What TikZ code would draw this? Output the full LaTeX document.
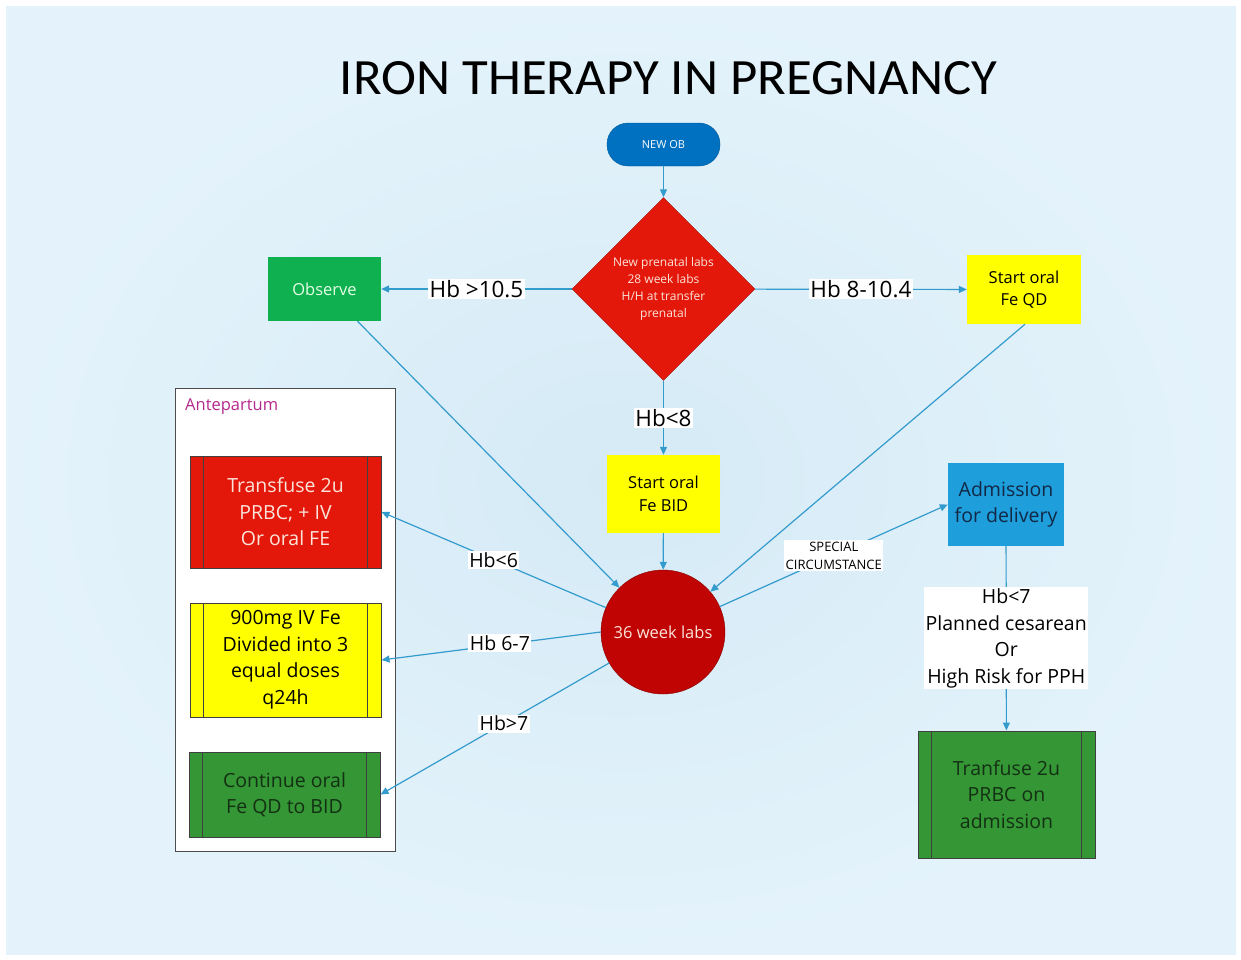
\documentclass[tikz,border=0pt]{standalone}
\usepackage{fontspec}
\usepackage{graphicx}
\setmainfont{Open Sans}
\newfontfamily\titlefont{Carlito}
\usetikzlibrary{shapes.geometric,arrows.meta,calc}
\definecolor{bgin}{RGB}{213,234,246}
\definecolor{bgout}{RGB}{228,243,251}
\definecolor{arr}{RGB}{52,155,205}
\definecolor{dred}{RGB}{228,24,10}
\definecolor{cred}{RGB}{192,4,4}
\definecolor{obsgreen}{RGB}{14,176,80}
\definecolor{ygreen}{RGB}{255,255,0}
\definecolor{boxgreen}{RGB}{52,150,52}
\definecolor{admblue}{RGB}{30,158,218}
\definecolor{obblue}{RGB}{0,112,192}
\definecolor{antepurple}{RGB}{180,40,140}
\definecolor{darktext}{RGB}{20,48,20}
\definecolor{navytext}{RGB}{18,40,70}
\definecolor{lighttext}{RGB}{250,228,218}
\begin{document}
\begin{tikzpicture}[x=1pt,y=-1pt,
  flow/.style={draw=arr, line width=1.2pt, -{Triangle[length=8pt,width=7pt]}},
  lbl/.style={fill=white, inner sep=1.5pt, text=black, align=center},
  box/.style={rectangle, inner sep=0pt, align=center},
  ppbox/.style={box, draw=black!75, line width=1pt},
  f11/.style={font=\fontsize{11}{14}\selectfont},
  f12/.style={font=\fontsize{12}{17}\selectfont},
  f13/.style={font=\fontsize{13}{18}\selectfont},
  f17/.style={font=\fontsize{16.5}{22.5}\selectfont},
  f20/.style={font=\fontsize{19.5}{26.5}\selectfont},
  f23/.style={font=\fontsize{22.5}{26}\selectfont}]
\useasboundingbox (0,0) rectangle (1241,959);
\fill[white] (0,0) rectangle (1241,959);
\shade[inner color=bgin, outer color=bgout] (6,6) rectangle (1236,954);

\node[inner sep=0pt] (title) at (668.5,78.5) {\resizebox{657pt}{33pt}{\titlefont IRON THERAPY IN PREGNANCY}};

\node[box, f11, fill=obblue, draw=obblue!80!black, rounded corners=21pt,
  minimum width=113pt, minimum height=43pt, text=white] (newob) at (663.5,144.5) {NEW OB};
\node[diamond, aspect=1, inner sep=0pt, minimum size=183pt, fill=dred, draw=dred!70!black,
  f12, text=lighttext, align=center] (dia) at (663.5,289) {New prenatal labs\\28 week labs\\H/H at transfer\\prenatal};
\node[box, f17, fill=obsgreen, minimum width=113pt, minimum height=64pt, text=white!90!green] (obs) at (324.5,289) {Observe};
\node[box, f17, fill=ygreen, minimum width=114pt, minimum height=69pt] (qd) at (1024,289.5) {Start oral\\Fe QD};
\node[box, f17, fill=ygreen, minimum width=113pt, minimum height=78pt] (bid) at (663.5,494) {Start oral\\Fe BID};
\node[circle, inner sep=0pt, minimum size=124pt, fill=cred, draw=cred!70!black, f17, text=lighttext] (circ) at (663,632) {36 week labs};
\node[box, f20, fill=admblue, minimum width=116pt, minimum height=83pt, text=navytext] (adm) at (1006,504.5) {Admission\\for delivery};
\node[ppbox, f20, fill=boxgreen, minimum width=177pt, minimum height=127pt, text=darktext] (trf) at (1006.5,794.5) {Tranfuse 2u\\PRBC on\\admission};

\node[box, fill=white, draw=black!70, line width=0.8pt, minimum width=220pt, minimum height=463pt] (ante) at (285,619.5) {};
\node[f17, text=antepurple, anchor=west, inner sep=0pt] (antelbl) at (185,407) {Antepartum};
\node[ppbox, f20, fill=dred, minimum width=191pt, minimum height=112pt, text=lighttext] (tr) at (285.5,512) {Transfuse 2u\\PRBC; + IV\\Or oral FE};
\node[ppbox, f20, fill=ygreen, minimum width=191pt, minimum height=114pt] (iv) at (285.5,660) {900mg IV Fe\\Divided into 3\\equal doses\\q24h};
\node[ppbox, f20, fill=boxgreen, minimum width=191pt, minimum height=85pt, text=darktext] (co) at (284.5,794.5) {Continue oral\\Fe QD to BID};

\foreach \n in {trf,tr,iv,co}{
  \draw[black!75, line width=1pt] ([xshift=14pt]\n.north west) -- ([xshift=14pt]\n.south west);
  \draw[black!75, line width=1pt] ([xshift=-14pt]\n.north east) -- ([xshift=-14pt]\n.south east);
}

\draw[flow] (newob) -- (dia);
\draw[flow] (dia) -- node[lbl, f23]{Hb >10.5} (obs);
\draw[flow] (dia) -- node[lbl, f23]{Hb 8-10.4} (qd);
\draw[flow] (dia) -- node[lbl, f23]{Hb<8} (bid);
\draw[flow] (bid) -- (circ);
\draw[flow] ([xshift=33pt]obs.south) -- (circ);
\draw[flow] ([xshift=1pt]qd.south) -- (circ);
\draw[flow] (circ) -- node[lbl, f13]{SPECIAL\\CIRCUMSTANCE} (adm.west);
\draw[flow] (adm) -- node[lbl, f20]{Hb<7\\Planned cesarean\\Or\\High Risk for PPH} (trf);
\draw[flow] (circ) -- node[lbl, f20]{Hb<6} (tr.east);
\draw[flow] (circ.180) -- node[lbl, f20, pos=0.46, yshift=2pt]{Hb 6-7} (iv.east);
\draw[flow] (circ) -- node[lbl, f20, pos=0.46]{Hb>7} (co.east);
\end{tikzpicture}
\end{document}
